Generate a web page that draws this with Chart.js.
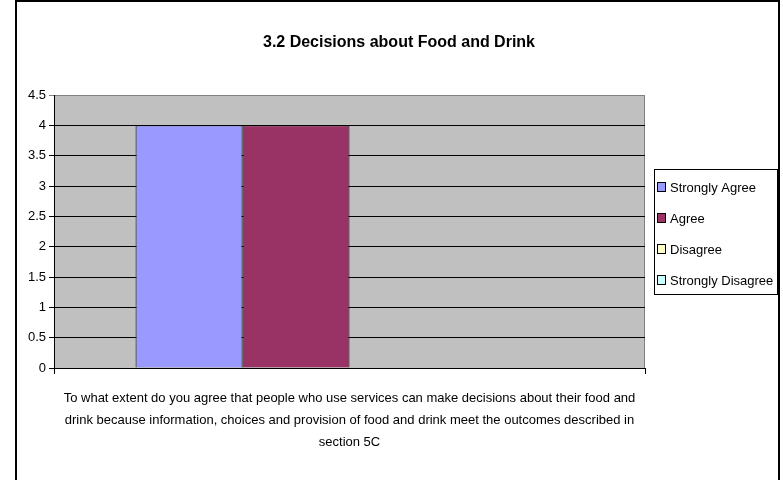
<!DOCTYPE html>
<html>
<head>
<meta charset="utf-8">
<script src="https://cdn.jsdelivr.net/npm/chart.js@4/dist/chart.umd.min.js"></script>
<style>
  html, body { margin: 0; padding: 0; background: #fff; }
  #wrap { position: relative; width: 783px; height: 480px; }
</style>
</head>
<body>
<div id="wrap"><canvas id="chart" width="783" height="480"></canvas></div>
<script>
// chart data
const categories = [[
  'To what extent do you agree that people who use services can make decisions about their food and',
  'drink because information, choices and provision of food and drink meet the outcomes described in',
  'section 5C'
]];
const seriesNames = ['Strongly Agree', 'Agree', 'Disagree', 'Strongly Disagree'];
const stronglyAgree = [4];
const agree = [4];
const disagree = [0];
const stronglyDisagree = [0];
const yMin = 0, yMax = 4.5, yStep = 0.5;

const FONT = '"Liberation Sans", Arial, sans-serif';
const colors = ['#9999FF', '#993366', '#FFFFCC', '#CCFFFF'];

// grey plot area + outer frame + boxed legend, excel style
const excelLook = {
  id: 'excelLook',
  beforeDraw(chart) {
    const { ctx, chartArea: a } = chart;
    ctx.save();
    ctx.fillStyle = '#C0C0C0';
    ctx.fillRect(a.left, a.top, a.right - a.left, a.bottom - a.top);
    ctx.strokeStyle = '#808080';
    ctx.lineWidth = 1;
    ctx.strokeRect(a.left + 0.5, a.top + 0.5, a.right - a.left - 1, a.bottom - a.top);
    ctx.restore();
  },
  afterDraw(chart) {
    const ctx = chart.ctx;
    ctx.save();
    // outer chart frame (bottom edge runs off the picture)
    ctx.strokeStyle = '#000';
    ctx.lineWidth = 2;
    ctx.strokeRect(16, 1, 763, 500);

    // legend box
    ctx.lineWidth = 1;
    ctx.strokeRect(654.5, 169.5, 123, 125);
    ctx.font = '13px ' + FONT;
    ctx.textBaseline = 'middle';
    chart.data.datasets.forEach((ds, i) => {
      const y = 187 + i * 31;
      ctx.fillStyle = ds.backgroundColor;
      ctx.fillRect(658, y - 4, 7, 8);
      ctx.strokeStyle = '#000';
      ctx.strokeRect(657.5, y - 4.5, 8, 9);
      ctx.fillStyle = '#000';
      ctx.fillText(ds.label, 670, y + 1);
    });
    ctx.restore();
  }
};

const series = [stronglyAgree, agree, disagree, stronglyDisagree];

new Chart(document.getElementById('chart'), {
  type: 'bar',
  data: {
    labels: categories,
    datasets: series.map((d, i) => ({
      label: seriesNames[i],
      data: d,
      backgroundColor: colors[i],
      borderColor: '#000',
      borderWidth: 1,
      categoryPercentage: 0.724,
      barPercentage: 1.0
    }))
  },
  options: {
    responsive: false,
    animation: false,
    layout: { padding: { left: 15, right: 0, top: 0, bottom: 0 } },
    plugins: {
      legend: { display: false },
      tooltip: { enabled: false },
      title: {
        display: true,
        text: '3.2 Decisions about Food and Drink',
        color: '#000',
        font: { family: FONT, size: 16, weight: 'bold', lineHeight: 1.2 },
        padding: { top: 32.5, bottom: 43.3 }
      }
    },
    scales: {
      x: {
        afterFit: s => { s.height = 112; },
        grid: { display: true, drawOnChartArea: false, tickLength: 6, color: '#000', offset: true },
        border: { color: '#000', width: 1 },
        ticks: {
          color: '#000', padding: 13, maxRotation: 0, autoSkip: false,
          font: { family: FONT, size: 13, lineHeight: 1.72 }
        }
      },
      y: {
        min: yMin, max: yMax,
        afterFit: s => { s.width = 39; },
        grid: {
          color: ctx => (ctx.tick && ctx.tick.value === yMax ? '#808080' : '#000'),
          lineWidth: 1, tickLength: 5
        },
        border: { color: '#000', width: 1 },
        ticks: {
          stepSize: yStep, color: '#000', padding: 3,
          font: { family: FONT, size: 13 },
          callback: v => String(v)
        }
      },
      // empty right-hand space that holds the legend box
      legendSpace: {
        type: 'linear', position: 'right', display: true,
        afterFit: s => { s.width = 138; },
        grid: { display: false }, border: { display: false },
        ticks: { display: false }
      }
    }
  },
  plugins: [excelLook]
});
</script>
</body>
</html>
